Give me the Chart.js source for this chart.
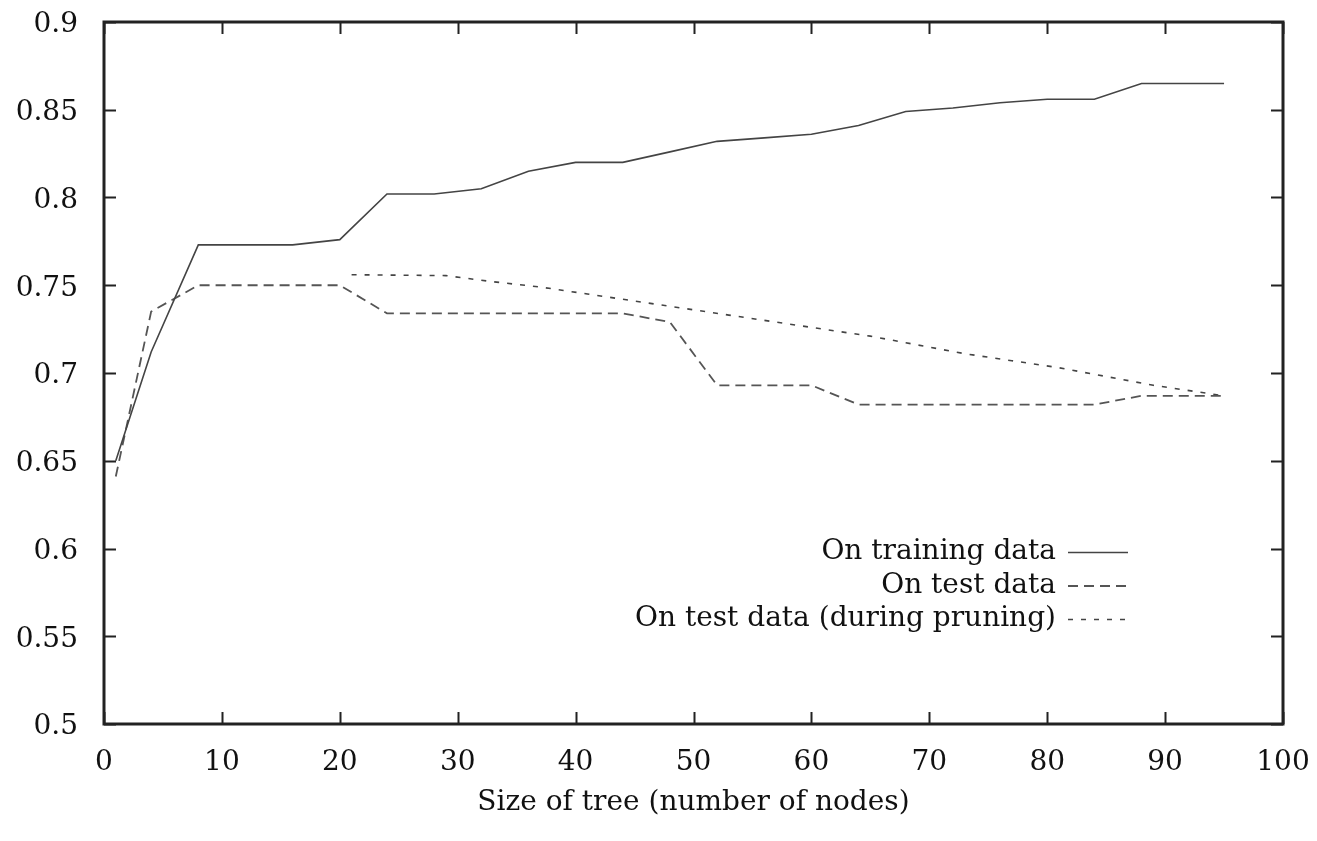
<!DOCTYPE html>
<html><head><meta charset="utf-8">
<script src="https://cdn.jsdelivr.net/npm/chart.js@4/dist/chart.umd.min.js"></script>
<style>html,body{margin:0;padding:0;background:#fff}#wrap{width:1317px;height:841px;position:relative}</style>
</head><body><div id="wrap"><canvas id="c"></canvas></div>
<script>
const trainX=[1,4,8,12,16,20,24,28,32,36,40,44,48,52,56,60,64,68,72,76,80,84,88,95];
const trainY=[0.650,0.712,0.773,0.773,0.773,0.776,0.802,0.802,0.805,0.815,0.820,0.820,0.826,0.832,0.834,0.836,0.841,0.849,0.851,0.854,0.856,0.856,0.865,0.865];
const testX=[1,4,8,20,24,44,48,52,60,64,84,88,95];
const testY=[0.641,0.735,0.750,0.750,0.734,0.734,0.729,0.693,0.693,0.682,0.682,0.687,0.687];
const pruneX=[21,29,33,37,41,45,49,53,57,61,65,69,73,77,81,85,89,95];
const pruneY=[0.756,0.7555,0.752,0.749,0.745,0.741,0.737,0.733,0.729,0.725,0.721,0.716,0.711,0.707,0.703,0.698,0.693,0.687];
const seriesLabels=["On training data","On test data","On test data (during pruning)"];
const xTitle="Size of tree (number of nodes)";
const xMin=0,xMax=100,xStep=10,yMin=0.5,yMax=0.9,yStep=0.05;

const pts=(xs,ys)=>xs.map((x,i)=>({x:x,y:ys[i]}));
const FONT="'DejaVu Serif', 'Liberation Serif', serif";

const frame={
  id:'frame',
  afterDatasetsDraw(chart){
    const {ctx,chartArea:a,scales:{x,y}}=chart;
    ctx.save();
    ctx.strokeStyle='#222';
    ctx.lineWidth=2;
    const L=12;
    x.ticks.forEach(t=>{
      const px=Math.round(x.getPixelForValue(t.value))+0.5;
      ctx.beginPath();ctx.moveTo(px,a.bottom);ctx.lineTo(px,a.bottom-L);
      ctx.moveTo(px,a.top);ctx.lineTo(px,a.top+L);ctx.stroke();
    });
    y.ticks.forEach(t=>{
      const py=Math.round(y.getPixelForValue(t.value))+0.5;
      ctx.beginPath();ctx.moveTo(a.left,py);ctx.lineTo(a.left+L,py);
      ctx.moveTo(a.right,py);ctx.lineTo(a.right-L,py);ctx.stroke();
    });
    ctx.lineWidth=3;
    ctx.strokeRect(a.left,a.top,a.right-a.left,a.bottom-a.top);
    const o=chart.options.plugins.frame;
    ctx.font="28px "+FONT;
    ctx.fillStyle='#111';
    ctx.textAlign='right';ctx.textBaseline='middle';
    chart.data.datasets.forEach((ds,i)=>{
      const ty=o.legendY+i*o.legendGap;
      ctx.fillText(ds.label,o.legendTextX,ty);
      ctx.save();
      ctx.strokeStyle=ds.borderColor;ctx.lineWidth=ds.borderWidth;
      ctx.setLineDash(ds.borderDash||[]);
      ctx.beginPath();ctx.moveTo(o.legendLineX0,ty+0.5);ctx.lineTo(o.legendLineX1,ty+0.5);ctx.stroke();
      ctx.restore();
    });
    ctx.restore();
  }
};

new Chart(document.getElementById('c'),{
  type:'line',
  data:{datasets:[
    {label:seriesLabels[0],data:pts(trainX,trainY),borderColor:'#444',borderWidth:1.6,pointRadius:0,tension:0,fill:false},
    {label:seriesLabels[1],data:pts(testX,testY),borderColor:'#555',borderWidth:1.8,borderDash:[10,6],pointRadius:0,tension:0,fill:false},
    {label:seriesLabels[2],data:pts(pruneX,pruneY),borderColor:'#444',borderWidth:1.6,borderDash:[5,8],pointRadius:0,tension:0,fill:false}
  ]},
  options:{
    responsive:true,maintainAspectRatio:false,animation:false,
    layout:{padding:{top:22,right:34,left:0,bottom:0}},
    plugins:{legend:{display:false},tooltip:{enabled:false},
      frame:{legendTextX:1056,legendLineX0:1068,legendLineX1:1128,legendY:552,legendGap:33.5}},
    scales:{
      x:{type:'linear',min:xMin,max:xMax,
        grid:{display:false,drawTicks:false},border:{display:false},
        ticks:{stepSize:xStep,padding:22,color:'#111',font:{family:FONT,size:28},maxRotation:0},
        title:{display:true,text:xTitle,color:'#111',font:{family:FONT,size:28},padding:{top:0,bottom:21}},
        afterFit(s){s.height=117;s.paddingLeft=0;s.paddingRight=0;}
      },
      y:{type:'linear',min:yMin,max:yMax,
        grid:{display:false,drawTicks:false},border:{display:false},
        ticks:{stepSize:yStep,padding:26,labelOffset:3,color:'#111',font:{family:FONT,size:28},
          callback:v=>String(Number(v.toFixed(2)))},
        afterFit(s){s.width=104;s.paddingTop=0;s.paddingBottom=0;}
      }
    }
  },
  plugins:[frame]
});
</script></body></html>
